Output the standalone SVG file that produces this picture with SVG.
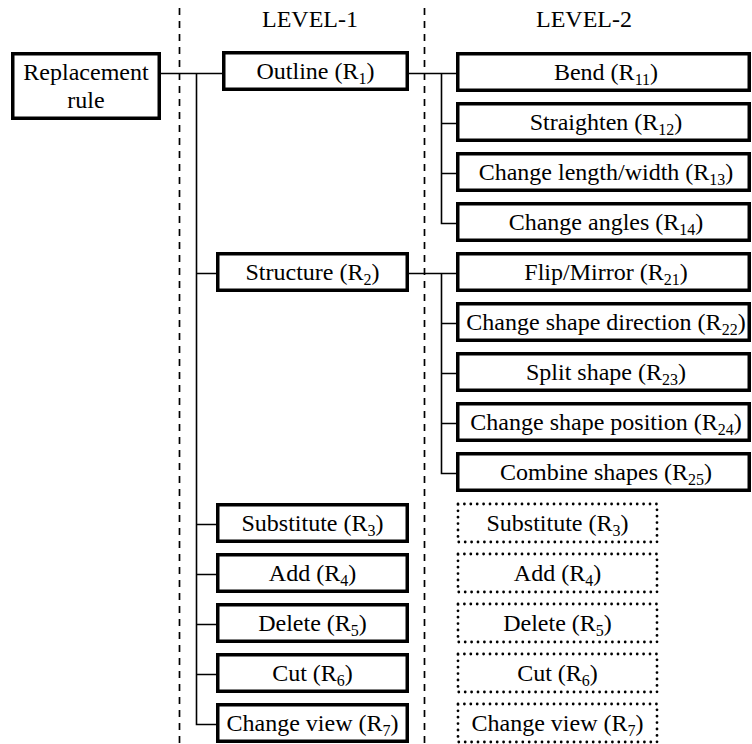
<svg xmlns="http://www.w3.org/2000/svg" width="752" height="744" viewBox="0 0 752 744">
<style>
.bx{fill:#fff;stroke:#000;stroke-width:3.5}
.dot{fill:#fff;stroke:#000;stroke-width:2.8;stroke-dasharray:0 6.4;stroke-linecap:round}
.t{font-family:"Liberation Serif","Times New Roman",serif;font-size:24px;fill:#000;text-anchor:middle}
.s{font-size:16px}
.c{fill:none;stroke:#000;stroke-width:1.6}
.d{fill:none;stroke:#000;stroke-width:1.7;stroke-dasharray:7 6}
</style>
<rect width="752" height="744" fill="#fff"/>
<g id="guides">
<line class="d" x1="179.5" y1="8" x2="179.5" y2="744"/>
<line class="d" x1="424.5" y1="8" x2="424.5" y2="744"/>
<text class="t" x="310" y="27">LEVEL-1</text>
<text class="t" x="584" y="27">LEVEL-2</text>
</g>
<g id="connectors">
<path class="c" d="M161 73.5H222M196.5 73.5V724.5H216M196.5 273.5H216M196.5 524.5H216M196.5 574.5H216M196.5 624.5H216M196.5 674.5H216"/>
<path class="c" d="M409 73.5H456M441.5 73.5V223.5H456M441.5 123.5H456M441.5 173.5H456"/>
<path class="c" d="M409 273.5H456M441.5 273.5V473.5H456M441.5 323.5H456M441.5 373.5H456M441.5 423.5H456"/>
</g>
<g id="root"><rect class="bx" x="12.75" y="53.75" width="146.5" height="64.5"/><text class="t" x="86" y="80">Replacement</text><text class="t" x="86" y="108">rule</text></g>
<g id="R1"><rect class="bx" x="223.75" y="52.75" width="183.5" height="36.5"/><text class="t" x="315.5" y="79">Outline (R<tspan class="s" dy="5">1</tspan><tspan dy="-5">)</tspan></text></g>
<g id="R2"><rect class="bx" x="217.75" y="253.75" width="189.5" height="36.5"/><text class="t" x="312.5" y="280">Structure (R<tspan class="s" dy="5">2</tspan><tspan dy="-5">)</tspan></text></g>
<g id="R3"><rect class="bx" x="217.75" y="504.75" width="189.5" height="36.5"/><text class="t" x="312.5" y="531">Substitute (R<tspan class="s" dy="5">3</tspan><tspan dy="-5">)</tspan></text></g>
<g id="R4"><rect class="bx" x="217.75" y="554.75" width="189.5" height="36.5"/><text class="t" x="312.5" y="581">Add (R<tspan class="s" dy="5">4</tspan><tspan dy="-5">)</tspan></text></g>
<g id="R5"><rect class="bx" x="217.75" y="604.75" width="189.5" height="36.5"/><text class="t" x="312.5" y="631">Delete (R<tspan class="s" dy="5">5</tspan><tspan dy="-5">)</tspan></text></g>
<g id="R6"><rect class="bx" x="217.75" y="654.75" width="189.5" height="36.5"/><text class="t" x="312.5" y="681">Cut (R<tspan class="s" dy="5">6</tspan><tspan dy="-5">)</tspan></text></g>
<g id="R7"><rect class="bx" x="217.75" y="704.75" width="189.5" height="36.5"/><text class="t" x="312.5" y="731">Change view (R<tspan class="s" dy="5">7</tspan><tspan dy="-5">)</tspan></text></g>
<g id="R11"><rect class="bx" x="457.75" y="53.75" width="291.5" height="36.5"/><text class="t" x="606" y="80">Bend (R<tspan class="s" dy="5">11</tspan><tspan dy="-5">)</tspan></text></g>
<g id="R12"><rect class="bx" x="457.75" y="103.75" width="291.5" height="36.5"/><text class="t" x="606" y="130">Straighten (R<tspan class="s" dy="5">12</tspan><tspan dy="-5">)</tspan></text></g>
<g id="R13"><rect class="bx" x="457.75" y="153.75" width="291.5" height="36.5"/><text class="t" x="606" y="180">Change length/width (R<tspan class="s" dy="5">13</tspan><tspan dy="-5">)</tspan></text></g>
<g id="R14"><rect class="bx" x="457.75" y="203.75" width="291.5" height="36.5"/><text class="t" x="606" y="230">Change angles (R<tspan class="s" dy="5">14</tspan><tspan dy="-5">)</tspan></text></g>
<g id="R21"><rect class="bx" x="457.75" y="253.75" width="291.5" height="36.5"/><text class="t" x="606" y="280">Flip/Mirror (R<tspan class="s" dy="5">21</tspan><tspan dy="-5">)</tspan></text></g>
<g id="R22"><rect class="bx" x="457.75" y="303.75" width="291.5" height="36.5"/><text class="t" x="606" y="330">Change shape direction (R<tspan class="s" dy="5">22</tspan><tspan dy="-5">)</tspan></text></g>
<g id="R23"><rect class="bx" x="457.75" y="353.75" width="291.5" height="36.5"/><text class="t" x="606" y="380">Split shape (R<tspan class="s" dy="5">23</tspan><tspan dy="-5">)</tspan></text></g>
<g id="R24"><rect class="bx" x="457.75" y="403.75" width="291.5" height="36.5"/><text class="t" x="606" y="430">Change shape position (R<tspan class="s" dy="5">24</tspan><tspan dy="-5">)</tspan></text></g>
<g id="R25"><rect class="bx" x="457.75" y="453.75" width="291.5" height="36.5"/><text class="t" x="606" y="480">Combine shapes (R<tspan class="s" dy="5">25</tspan><tspan dy="-5">)</tspan></text></g>
<g id="L2-R3"><rect class="dot" x="458" y="504" width="199" height="38"/><text class="t" x="557.5" y="531">Substitute (R<tspan class="s" dy="5">3</tspan><tspan dy="-5">)</tspan></text></g>
<g id="L2-R4"><rect class="dot" x="458" y="554" width="199" height="38"/><text class="t" x="557.5" y="581">Add (R<tspan class="s" dy="5">4</tspan><tspan dy="-5">)</tspan></text></g>
<g id="L2-R5"><rect class="dot" x="458" y="604" width="199" height="38"/><text class="t" x="557.5" y="631">Delete (R<tspan class="s" dy="5">5</tspan><tspan dy="-5">)</tspan></text></g>
<g id="L2-R6"><rect class="dot" x="458" y="654" width="199" height="38"/><text class="t" x="557.5" y="681">Cut (R<tspan class="s" dy="5">6</tspan><tspan dy="-5">)</tspan></text></g>
<g id="L2-R7"><rect class="dot" x="458" y="704" width="199" height="38"/><text class="t" x="557.5" y="731">Change view (R<tspan class="s" dy="5">7</tspan><tspan dy="-5">)</tspan></text></g>
</svg>
